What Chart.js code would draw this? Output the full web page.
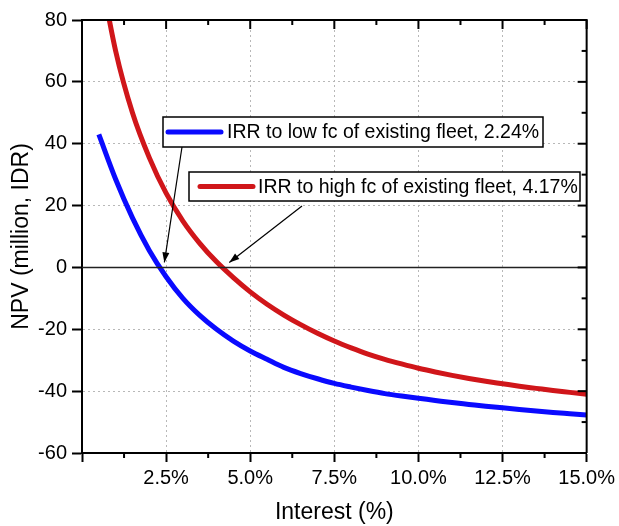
<!DOCTYPE html>
<html>
<head>
<meta charset="utf-8">
<script src="https://cdn.jsdelivr.net/npm/chart.js@4"></script>
<style>
  html, body { margin: 0; padding: 0; background: #fff; }
</style>
</head>
<body>
<canvas id="npvChart" width="619" height="526"></canvas>
<script>
// interest rate (%) on the x axis
const rates = [0.5, 1, 1.5, 2, 2.5, 3, 3.5, 4, 4.5, 5, 5.5, 6, 6.5, 7, 7.5,
  8, 8.5, 9, 9.5, 10, 10.5, 11, 11.5, 12, 12.5, 13, 13.5, 14, 14.5, 15];

// NPV (million IDR)
const npvLowFc = [43, 28.5, 16, 5.5, -3, -10, -15.5, -20, -23.8, -27, -29.7, -32.3, -34.3, -36, -37.5,
  -38.7, -39.8, -40.8, -41.6, -42.3, -43, -43.7, -44.3, -44.9, -45.4, -45.9, -46.4, -46.9, -47.3, -47.7];
const npvHighFc = [98, 70, 50, 35.5, 24, 15, 7.8, 1.8, -3.3, -7.9, -11.9, -15.4, -18.5, -21.3, -23.8,
  -26, -28, -29.7, -31.2, -32.6, -33.8, -34.9, -35.9, -36.8, -37.6, -38.4, -39.1, -39.8, -40.4, -41];

const seriesNames = ["IRR to low fc of existing fleet, 2.24%", "IRR to high fc of existing fleet, 4.17%"];
const irrValues = [2.24, 4.17];
const seriesColors = ["#0a0aff", "#d0161a"];

const zeroLine = [{ x: 0, y: 0 }, { x: 15, y: 0 }];

const FONT = "Arial, 'Liberation Sans', sans-serif";
Chart.defaults.font.family = FONT;
Chart.defaults.color = "#000";

// box, inner ticks on top/right and minor ticks on the bottom
const framePlugin = {
  id: "frame",
  afterDatasetsDraw(chart) {
    const { ctx, chartArea: a, scales: { x, y } } = chart;
    ctx.save();
    ctx.strokeStyle = "#000";
    ctx.lineWidth = 2;
    ctx.beginPath();
    ctx.moveTo(a.left, a.top);
    ctx.lineTo(a.right, a.top);
    ctx.lineTo(a.right, a.bottom);
    ctx.stroke();

    for (let i = 0; i <= 12; i++) {
      const v = i * 1.25;
      const px = x.getPixelForValue(v);
      const major = i % 2 === 0;
      ctx.beginPath();
      ctx.moveTo(px, a.top);
      ctx.lineTo(px, a.top + (major ? 9 : 5));
      if (!major) {
        ctx.moveTo(px, a.bottom);
        ctx.lineTo(px, a.bottom + 5);
      }
      ctx.stroke();
    }
    for (let v = -60; v <= 80; v += 10) {
      const py = y.getPixelForValue(v);
      const major = v % 20 === 0;
      ctx.beginPath();
      ctx.moveTo(a.right, py);
      ctx.lineTo(a.right - (major ? 9 : 5), py);
      ctx.stroke();
    }
    ctx.restore();
  }
};

// the two boxed labels with arrows pointing at the IRR crossings
const irrLegendPlugin = {
  id: "irrLegend",
  afterDraw(chart) {
    const { ctx, chartArea: a, scales: { x, y } } = chart;
    const boxes = [
      { left: a.left + 81, top: a.top + 97, w: 380, h: 30, lineFrom: 5, textAt: 64, arrowFrom: 19, arrowGap: 0 },
      { left: a.left + 107, top: a.top + 152, w: 391, h: 29, lineFrom: 11, textAt: 69, arrowFrom: 113, arrowGap: 5 }
    ];
    ctx.save();
    boxes.forEach((b, i) => {
      ctx.fillStyle = "#fff";
      ctx.fillRect(b.left, b.top, b.w, b.h);
      ctx.strokeStyle = "#000";
      ctx.lineWidth = 1.5;
      ctx.strokeRect(b.left, b.top, b.w, b.h);

      const cy = b.top + b.h / 2;
      ctx.strokeStyle = seriesColors[i];
      ctx.lineWidth = 5;
      ctx.lineCap = "round";
      ctx.beginPath();
      ctx.moveTo(b.left + b.lineFrom, cy);
      ctx.lineTo(b.left + b.lineFrom + 53, cy);
      ctx.stroke();
      ctx.lineCap = "butt";

      ctx.fillStyle = "#000";
      ctx.font = "19.5px " + FONT;
      ctx.textBaseline = "middle";
      ctx.fillText(seriesNames[i], b.left + b.textAt, cy + 1);

      // arrow
      const sx = b.left + b.arrowFrom;
      const sy = b.top + b.h + b.arrowGap;
      const tx = x.getPixelForValue(irrValues[i]) + 7;
      const ty = y.getPixelForValue(0) - 5;
      ctx.strokeStyle = "#000";
      ctx.lineWidth = 1.2;
      ctx.beginPath();
      ctx.moveTo(sx, sy);
      ctx.lineTo(tx, ty);
      ctx.stroke();
      const ang = Math.atan2(ty - sy, tx - sx);
      ctx.beginPath();
      ctx.moveTo(tx, ty);
      ctx.lineTo(tx - 10 * Math.cos(ang) + 3.5 * Math.sin(ang), ty - 10 * Math.sin(ang) - 3.5 * Math.cos(ang));
      ctx.lineTo(tx - 10 * Math.cos(ang) - 3.5 * Math.sin(ang), ty - 10 * Math.sin(ang) + 3.5 * Math.cos(ang));
      ctx.closePath();
      ctx.fillStyle = "#000";
      ctx.fill();
    });
    ctx.restore();
  }
};

const gridColor = (edgeValues) => (c) =>
  c.tick && edgeValues.includes(c.tick.value) ? "rgba(0,0,0,0)" : "#b8b8b8";

const ctx = document.getElementById("npvChart").getContext("2d");
const npvChart = new Chart(ctx, {
  type: "line",
  data: {
    datasets: [
      {
        label: "zero",
        data: zeroLine,
        borderColor: "#222",
        borderWidth: 1.5,
        pointRadius: 0,
        clip: 0
      },
      {
        label: seriesNames[0],
        data: rates.map((r, i) => ({ x: r, y: npvLowFc[i] })),
        borderColor: seriesColors[0],
        borderWidth: 5,
        pointRadius: 0,
        cubicInterpolationMode: "monotone",
        clip: 0
      },
      {
        label: seriesNames[1],
        data: rates.map((r, i) => ({ x: r, y: npvHighFc[i] })),
        borderColor: seriesColors[1],
        borderWidth: 5,
        pointRadius: 0,
        cubicInterpolationMode: "monotone",
        clip: 0
      }
    ]
  },
  options: {
    responsive: false,
    animation: false,
    layout: { padding: { top: 20, right: 32, left: 0, bottom: 0 } },
    plugins: {
      legend: { display: false },
      tooltip: { enabled: false }
    },
    scales: {
      x: {
        type: "linear",
        min: 0,
        max: 15,
        afterFit(scale) { scale.height = 73; },
        ticks: {
          stepSize: 2.5,
          padding: 4,
          font: { size: 20 },
          callback: (v) => (v === 0 ? "" : v.toFixed(1) + "%")
        },
        grid: {
          color: gridColor([0, 15]),
          lineWidth: 1,
          tickColor: "#000",
          tickWidth: 2,
          tickLength: 9
        },
        border: { color: "#000", width: 2, dash: [2, 3] },
        title: {
          display: true,
          text: "Interest (%)",
          font: { size: 23 },
          padding: { top: 0, bottom: 0 }
        }
      },
      y: {
        type: "linear",
        min: -60,
        max: 80,
        afterFit(scale) { scale.width = 82; },
        ticks: {
          stepSize: 20,
          padding: 5,
          font: { size: 20 }
        },
        grid: {
          color: gridColor([-60, 80]),
          lineWidth: 1,
          tickColor: "#000",
          tickWidth: 2,
          tickLength: 10
        },
        border: { color: "#000", width: 2, dash: [2, 3] },
        title: {
          display: true,
          text: "NPV (million, IDR)",
          font: { size: 23 },
          padding: { top: 8, bottom: 0 }
        }
      }
    }
  },
  plugins: [framePlugin, irrLegendPlugin]
});
</script>
</body>
</html>
